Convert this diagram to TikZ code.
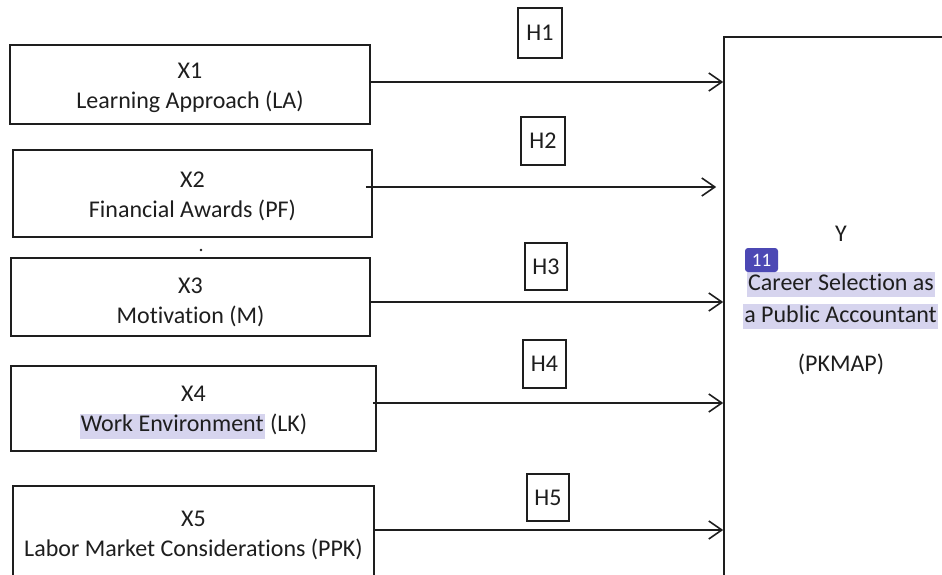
\documentclass[tikz,border=0pt]{standalone}
\usepackage{fontspec}
\setmainfont{Carlito}[Ligatures={NoCommon}]
\usetikzlibrary{arrows.meta}
\definecolor{hl}{HTML}{D6D4EE}
\definecolor{badge}{HTML}{4C48B4}
\definecolor{ink}{HTML}{1E1E1E}
\newcommand\hlword[1]{{\setlength\fboxsep{1pt}\colorbox{hl}{\vrule height 17pt depth 6pt width 0pt #1}}}
\begin{document}
\begin{tikzpicture}[x=1pt,y=-1pt,
  font=\fontsize{24}{30}\selectfont, text=ink,
  xbox/.style={draw=ink, line width=1.6pt, inner sep=0pt},
  xtext/.style={align=center, inner sep=0pt},
  hbox/.style={draw=ink, line width=1.6pt, inner sep=0pt},
  hlbox/.style={fill=hl, inner xsep=1.5pt, inner ysep=1pt, text height=17pt, text depth=6pt},
  arr/.style={draw=ink, line width=1.6pt, -{Straight Barb[length=13pt,width=18pt,line width=1.6pt]}},
]
\useasboundingbox[fill=white] (0,0) rectangle (942,575);

% input boxes
\node[xbox, minimum width=360pt, minimum height=79pt] (X1) at (190,84.5) {};
\node[xbox, minimum width=359pt, minimum height=87pt] (X2) at (192.5,193.5) {};
\node[xbox, minimum width=359pt, minimum height=78pt] (X3) at (190.5,297) {};
\node[xbox, minimum width=365pt, minimum height=85pt] (X4) at (193.5,408.5) {};
\node[xbox, minimum width=361pt, minimum height=94pt] (X5) at (193.5,533) {};
\node[xtext] (X1t) at ([yshift=-3.5pt]X1.center) {X1\\Learning Approach (LA)};
\node[xtext] (X2t) at ([yshift=-3pt]X2.center) {X2\\Financial Awards (PF)};
\node[xtext] (X3t) at ([yshift=-5.5pt]X3.center) {X3\\Motivation (M)};
\node[xtext] (X4t) at ([yshift=-4pt]X4.center) {X4\\\hlword{Work Environment} (LK)};
\node[xtext] (X5t) at ([yshift=-2.5pt]X5.center) {X5\\Labor Market Considerations (PPK)};
\node[circle, fill=ink, inner sep=0pt, minimum size=2.6pt] (dot) at (201,250) {};

% output box
\node[draw=ink, line width=1.6pt, minimum width=236pt, minimum height=563pt, inner sep=0pt] (Y) at (842,318.5) {};
\node (Ylab) at (841,233.5) {Y};
\node[hlbox] (Yl1) at (841,284.5) {Career Selection as};
\node[hlbox] (Yl2) at (840.5,316.5) {a Public Accountant};
\node (Yl3) at (841,364.5) {(PKMAP)};
\node[fill=badge, rounded corners=3pt, minimum width=33pt, minimum height=24pt, inner sep=0pt, text=white, font=\fontsize{19}{22}\selectfont] (badge) at (761.5,260) {11};

% hypothesis labels
\node[hbox, minimum width=44pt, minimum height=50pt] (H1) at (540,33) {H1};
\node[hbox, minimum width=44pt, minimum height=48pt] (H2) at (543,141) {H2};
\node[hbox, minimum width=42pt, minimum height=47pt] (H3) at (546,266.5) {H3};
\node[hbox, minimum width=43pt, minimum height=48pt] (H4) at (544.5,364) {H4};
\node[hbox, minimum width=42pt, minimum height=47pt] (H5) at (548,497.5) {H5};

% arrows
\coordinate (s1) at ([yshift=2.5pt]X1.east);
\coordinate (s2) at ([xshift=-7pt,yshift=6.5pt]X2.east);
\coordinate (s3) at ([yshift=-5pt]X3.east);
\coordinate (s4) at ([xshift=-4pt,yshift=5.5pt]X4.east);
\coordinate (s5) at ([yshift=3pt]X5.east);
\draw[arr] (s1) -- (s1 -| Y.west);
\draw[arr, shorten >=7pt] (s2) -- (s2 -| Y.west);
\draw[arr] (s3) -- (s3 -| Y.west);
\draw[arr] (s4) -- (s4 -| Y.west);
\draw[arr] (s5) -- (s5 -| Y.west);
\end{tikzpicture}
\end{document}
